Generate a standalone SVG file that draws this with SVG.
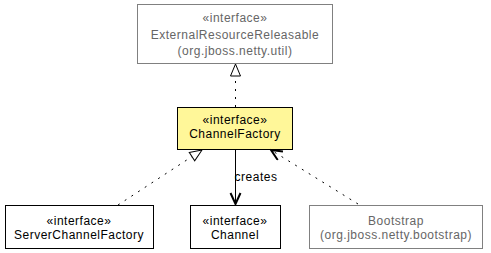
<svg xmlns="http://www.w3.org/2000/svg" width="491" height="253" viewBox="0 0 491 253">
<style>
text{font-family:"Liberation Sans",Arial,sans-serif;font-size:12px;letter-spacing:0.5px;text-anchor:middle}
.g rect{fill:#fff;stroke:#808080;stroke-width:1}
.g text{fill:#666}
.b rect{fill:#fff;stroke:#000;stroke-width:1}
.b text{fill:#000}
.dot{fill:none;stroke:#000;stroke-width:1;stroke-dasharray:2,6}
</style>
<defs>
<marker id="tri" markerWidth="14" markerHeight="14" refX="13" refY="6" orient="auto" markerUnits="userSpaceOnUse">
<path d="M1,1 L13,6 L1,11 Z" fill="#fff" stroke="#000" stroke-width="1"/>
</marker>
<marker id="open" markerWidth="14" markerHeight="14" refX="12" refY="6" orient="auto" markerUnits="userSpaceOnUse">
<path d="M1,1 L12,6 L1,11" fill="none" stroke="#000" stroke-width="2"/>
</marker>
</defs>
<g id="ExternalResourceReleasable" class="g">
<rect x="137.5" y="4.5" width="195" height="59"/>
<text x="235" y="22">«interface»</text>
<text x="235" y="39">ExternalResourceReleasable</text>
<text x="235" y="55">(org.jboss.netty.util)</text>
</g>
<g id="ChannelFactory" class="b">
<rect x="177.5" y="107.5" width="115" height="42" style="fill:#fff799"/>
<text x="235" y="124">«interface»</text>
<text x="235" y="138">ChannelFactory</text>
</g>
<g id="ServerChannelFactory" class="b">
<rect x="5.5" y="205.5" width="148" height="43"/>
<text x="79" y="225">«interface»</text>
<text x="79" y="239">ServerChannelFactory</text>
</g>
<g id="Channel" class="b">
<rect x="190.5" y="205.5" width="90" height="43"/>
<text x="235" y="225">«interface»</text>
<text x="235" y="239">Channel</text>
</g>
<g id="Bootstrap" class="g">
<rect x="309.5" y="205.5" width="173" height="43"/>
<text x="396" y="225">Bootstrap</text>
<text x="396" y="239">(org.jboss.netty.bootstrap)</text>
</g>
<g id="connectors">
<path class="dot" d="M235.5,107 L235.5,64" marker-end="url(#tri)"/>
<path class="dot" d="M118,205 L202,150" marker-end="url(#tri)"/>
<path d="M235.5,150 L235.5,204" fill="none" stroke="#000" stroke-width="1" marker-end="url(#open)"/>
<text x="256" y="181" style="text-anchor:middle">creates</text>
<path class="dot" d="M358,204 L271,150" marker-end="url(#open)"/>
</g>
</svg>
